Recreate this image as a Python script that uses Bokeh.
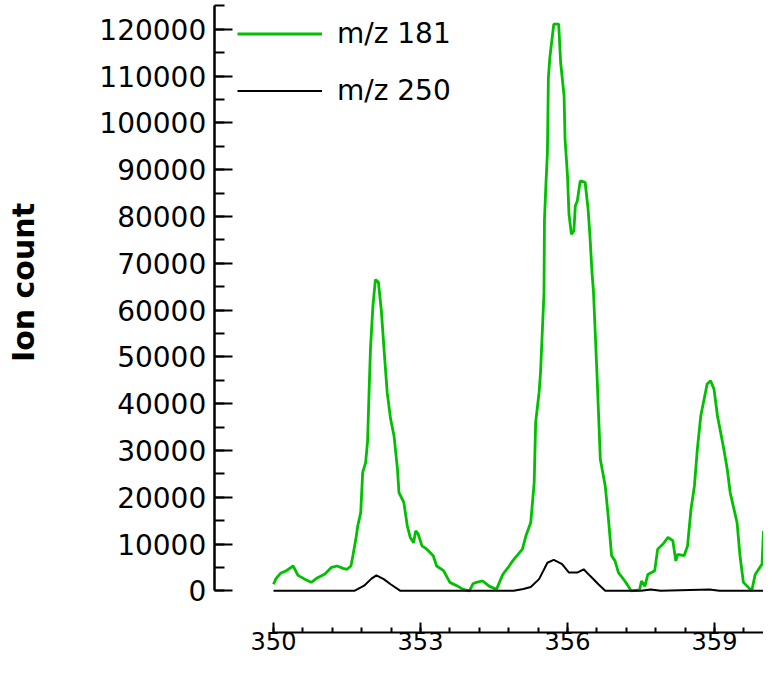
import math
from bokeh.plotting import figure
from bokeh.models import Range1d, FixedTicker, Legend, Label, BasicTickFormatter
from bokeh.embed import file_html
from bokeh.resources import INLINE

# ---------------- data ----------------
mz181_x = [350.00, 350.05, 350.15, 350.25, 350.40, 350.50, 350.62, 350.77, 350.90, 351.05,
           351.18, 351.30, 351.42, 351.50, 351.58, 351.62, 351.68, 351.72, 351.78, 351.82,
           351.88, 351.92, 351.95, 351.98, 352.03, 352.08, 352.14, 352.20, 352.26, 352.32,
           352.39, 352.46, 352.53, 352.56, 352.66, 352.73, 352.79, 352.86, 352.90, 352.95,
           353.03, 353.13, 353.26, 353.33, 353.47, 353.60, 353.74, 353.87, 354.00, 354.07,
           354.14, 354.27, 354.40, 354.55, 354.68, 354.81, 354.88, 355.08, 355.15, 355.25,
           355.32, 355.35, 355.42, 355.45, 355.52, 355.53, 355.56, 355.59, 355.61, 355.64,
           355.72, 355.82, 355.86, 355.93, 355.95, 356.00, 356.03, 356.08, 356.13, 356.16,
           356.20, 356.26, 356.36, 356.42, 356.46, 356.50, 356.53, 356.60, 356.67, 356.77,
           356.83, 356.90, 356.97, 357.04, 357.17, 357.30, 357.47, 357.51, 357.58, 357.64,
           357.78, 357.84, 357.95, 358.05, 358.15, 358.21, 358.25, 358.38, 358.45, 358.52,
           358.59, 358.65, 358.72, 358.85, 358.92, 358.99, 359.06, 359.19, 359.26, 359.32,
           359.46, 359.52, 359.59, 359.76, 359.83, 359.97, 360.00]
mz181_y = [1400, 2600, 3800, 4200, 5300, 3300, 2600, 1800, 2800, 3600,
           5000, 5300, 4800, 4600, 5300, 7500, 11000, 13900, 16700, 25300,
           27400, 32000, 42400, 52000, 61000, 66500, 66000, 60000, 51000, 42400,
           36700, 33100, 26000, 21000, 18900, 13900, 11400, 10300, 12800, 12200,
           9600, 8900, 7500, 5300, 4300, 1800, 1100, 300, 0, 1500,
           1800, 2100, 1000, 300, 3500, 5300, 6400, 8900, 11700, 14600,
           23100, 36000, 42400, 46700, 63700, 79400, 86900, 93700, 109700, 114000,
           121100, 121100, 112900, 105800, 96500, 88700, 80500, 76200, 76900, 82300,
           83300, 87600, 87300, 81600, 75500, 68000, 64000, 46700, 28100, 22400,
           16000, 7500, 6400, 3900, 2100, 0, 200, 2100, 1000, 3500,
           4300, 8900, 10000, 11400, 10700, 6400, 7800, 7500, 9600, 17400,
           22400, 30300, 37400, 44200, 44900, 43100, 37400, 30300, 26000, 21000,
           14600, 7500, 1800, 0, 3500, 5700, 12800]

mz250_x = [350.00, 351.65, 351.85, 352.00, 352.10, 352.25, 352.39, 352.59, 354.90, 355.10,
           355.25, 355.42, 355.59, 355.72, 355.89, 356.03, 356.20, 356.33, 356.46, 356.63,
           356.77, 357.50, 357.70, 357.90, 358.90, 359.10, 360.00]
mz250_y = [0, 0, 1100, 2600, 3300, 2500, 1400, 0, 0, 400,
           800, 2500, 6000, 6600, 5700, 3900, 3900, 4600, 3200, 1400,
           0, 0, 300, 0, 300, 0, 0]

series_labels = ["m/z 181", "m/z 250"]
x_major_ticks = [350, 353, 356, 359]
x_minor_ticks = [round(350 + 0.6 * k, 1) for k in range(17)]
y_major_ticks = list(range(0, 120001, 10000))
y_minor_ticks = list(range(0, 125001, 5000))
y_label = "Ion count"

# ---------------- layout ----------------
W, H = 763, 660
X0_PX = 273.0          # position of x=350 from the figure's left edge
PX_PER_X = 49.0
Y0_PX = 590.3          # position of y=0 from the figure's top edge
PX_PER_Y = 4.6792 / 1000

def xdata(px):
    return 350 + (px - X0_PX) / PX_PER_X

def ydata(py):
    return (Y0_PX - py) / PX_PER_Y

p = figure(width=W, height=H,
           x_range=Range1d(xdata(0), xdata(W)),
           y_range=Range1d(ydata(H), ydata(0)),
           output_backend="svg", toolbar_location=None, min_border=0)
p.title.visible = False
p.outline_line_color = None
p.xgrid.visible = False
p.ygrid.visible = False
p.background_fill_color = "white"
p.border_fill_color = "white"

FONT = "DejaVu Sans"

g = p.line(mz181_x, mz181_y, line_color="#00c000", line_width=2.8)
k = p.line(mz250_x, mz250_y, line_color="black", line_width=2)

# y axis
ya = p.yaxis[0]
ya.fixed_location = xdata(213.7)
ya.bounds = (0, 125000)
ya.ticker = FixedTicker(ticks=y_major_ticks, minor_ticks=y_minor_ticks)
ya.formatter = BasicTickFormatter(use_scientific=False)
ya.axis_line_width = 2.5
ya.major_tick_line_width = 2
ya.minor_tick_line_width = 2
ya.major_tick_in = 18
ya.major_tick_out = 0
ya.minor_tick_in = 10
ya.minor_tick_out = 0
ya.major_label_standoff = 8
ya.major_label_text_font = FONT
ya.major_label_text_font_size = "28px"
ya.major_label_text_color = "black"

# x axis
xa = p.xaxis[0]
xa.fixed_location = ydata(631.5)
xa.bounds = (350, 360)
xa.ticker = FixedTicker(ticks=x_major_ticks, minor_ticks=x_minor_ticks)
xa.axis_line_width = 2
xa.major_tick_line_width = 2
xa.minor_tick_line_width = 2
xa.major_tick_in = 10
xa.major_tick_out = 0
xa.minor_tick_in = 5
xa.minor_tick_out = 0
xa.major_label_standoff = 0
xa.major_label_text_font = FONT
xa.major_label_text_font_size = "24px"
xa.major_label_text_color = "black"

# y axis title
p.add_layout(Label(x=xdata(23), y=ydata(282), text=y_label, angle=math.pi / 2,
                   text_align="center", text_baseline="middle",
                   text_font=FONT, text_font_style="bold", text_font_size="30px",
                   text_color="black"))

# legend
legend = Legend(items=[(series_labels[0], [g]), (series_labels[1], [k])],
                location=(237, 553), padding=0, margin=0,
                glyph_width=85, glyph_height=33, label_height=33, spacing=24,
                label_standoff=15, label_text_font=FONT, label_text_font_size="28px",
                label_text_color="black",
                border_line_color=None, background_fill_alpha=0)
p.add_layout(legend)

open("out.html", "w").write(file_html(p, INLINE))
